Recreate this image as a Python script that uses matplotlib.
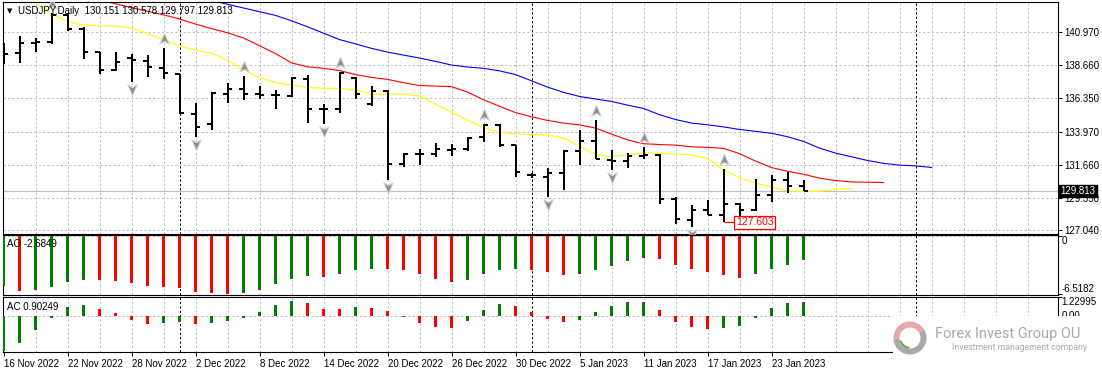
import numpy as np
import matplotlib.pyplot as plt
from matplotlib.path import Path
from matplotlib.patches import Rectangle, Wedge
from matplotlib.transforms import offset_copy, blended_transform_factory

W, H = 1102, 373

symbol = "USDJPY,Daily"

# daily bars, 16 Nov 2022 .. 25 Jan 2023
opens = [140.05, 139.49, 140.25, 140.31, 142.19, 141.18, 139.56, 138.32, 139.14, 138.95,
         138.44, 138.04, 135.22, 134.52, 136.63, 136.96, 136.61, 136.57, 136.51, 137.66,
         135.57, 135.58, 137.73, 135.90, 136.87, 131.70, 132.40, 132.41, 132.72, 132.74,
         133.58, 134.47, 133.02, 130.92, 130.81, 131.09, 132.62, 133.35, 131.99, 131.94,
         132.27, 132.34, 129.22, 127.76, 128.51, 128.12, 128.89, 128.47, 129.52, 130.58,
         130.151]
highs = [140.24, 140.71, 140.55, 142.31, 142.35, 141.37, 139.58, 139.61, 139.45, 139.38,
         139.89, 138.06, 135.97, 136.80, 137.38, 137.90, 137.19, 136.91, 137.80, 137.94,
         135.93, 138.20, 137.80, 137.19, 136.91, 132.45, 132.74, 133.16, 133.11, 133.58,
         134.52, 134.50, 133.04, 131.09, 131.40, 132.69, 134.10, 134.80, 132.69, 132.45,
         132.92, 132.41, 129.41, 128.82, 129.17, 131.33, 128.94, 130.63, 130.93, 131.17,
         130.578]
lows = [138.72, 138.84, 139.61, 140.13, 141.06, 139.12, 138.01, 138.27, 137.45, 137.85,
        137.66, 135.20, 133.63, 134.10, 135.97, 136.21, 136.26, 135.60, 136.40, 134.61,
        134.50, 135.27, 136.26, 135.79, 130.58, 131.47, 131.63, 132.17, 132.27, 132.64,
        133.28, 132.88, 130.77, 130.70, 129.41, 129.87, 131.63, 132.03, 131.28, 131.40,
        132.03, 128.89, 127.48, 127.25, 128.12, 127.603, 127.76, 128.42, 129.05, 129.69,
        129.797]
closes = [139.45, 140.20, 140.31, 142.19, 141.18, 139.61, 138.32, 138.91, 139.02, 138.51,
          138.09, 135.27, 134.33, 136.68, 136.96, 136.63, 136.56, 136.55, 137.73, 135.60,
          135.59, 138.13, 136.63, 136.87, 131.70, 132.38, 132.43, 132.74, 132.76, 133.51,
          134.45, 133.04, 131.17, 130.95, 131.05, 132.62, 133.35, 132.03, 131.94, 132.27,
          132.34, 129.22, 127.83, 128.51, 128.12, 128.89, 128.47, 129.52, 130.58, 130.15,
          129.813]

# alligator lines (already shifted forward), first bar index of each
jaw_start = 13
jaw = [143.21, 142.94, 142.68, 142.42, 142.16, 141.78, 141.36, 140.91, 140.46, 140.16,
       139.84, 139.58, 139.37, 139.16, 138.93, 138.67, 138.53, 138.44, 138.26, 138.00,
       137.56, 137.12, 136.75, 136.46, 136.28, 136.11, 135.85, 135.62, 135.18, 134.84,
       134.59, 134.47, 134.32, 134.14, 134.01, 133.87, 133.63, 133.30, 132.83, 132.48,
       132.22, 131.96, 131.76, 131.63, 131.58, 131.47]
teeth_start = 6
teeth = [143.24, 142.98, 142.71, 142.45, 142.20, 141.91, 141.55, 141.23, 140.94, 140.57,
         140.03, 139.48, 138.82, 138.55, 138.44, 138.28, 138.00, 137.80, 137.66, 137.43,
         137.23, 137.19, 137.15, 136.77, 136.23, 135.77, 135.33, 135.03, 134.78, 134.59,
         134.46, 134.24, 133.81, 133.41, 133.14, 133.08, 133.04, 132.92, 132.88, 132.81,
         132.44, 131.92, 131.46, 131.20, 130.99, 130.72, 130.55, 130.45, 130.43, 130.41]
lips_start = 2
lips = [143.03, 142.29, 141.72, 141.48, 141.41, 141.41, 141.27, 140.88, 140.44, 140.03,
        139.71, 139.51, 139.02, 138.35, 137.78, 137.44, 137.26, 137.10, 137.03, 137.03,
        136.92, 136.63, 136.61, 136.63, 136.50, 135.92, 135.36, 134.80, 134.30, 133.93,
        133.83, 133.79, 133.75, 133.54, 132.97, 132.38, 132.23, 132.34, 132.49, 132.46,
        132.41, 132.35, 132.10, 131.30, 130.75, 130.37, 130.10, 129.82, 129.77, 129.81,
        129.91, 129.99]

fractal_up = [3, 10, 15, 21, 30, 37, 40, 45]
fractal_down = [8, 12, 20, 24, 34, 38, 43]

ao = [-5.59, -6.18, -6.15, -5.74, -5.18, -4.95, -4.99, -5.03, -5.33, -5.62,
      -5.77, -5.89, -6.33, -6.49, -6.5182, -6.41, -6.11, -5.44, -4.88, -4.51,
      -4.66, -4.32, -3.87, -3.65, -3.76, -3.87, -4.32, -4.88, -5.22, -4.99,
      -4.32, -3.87, -3.76, -3.87, -4.10, -4.43, -4.32, -3.87, -3.32, -2.76,
      -2.42, -2.53, -3.20, -3.76, -4.10, -4.43, -4.77, -4.32, -3.76, -3.20,
      -2.6849]
ac = [-2.40, -1.86, -0.96, -0.18, 0.56, 0.69, 0.45, 0.16, -0.31, -0.58,
      -0.51, -0.40, -0.58, -0.49, -0.38, -0.18, 0.22, 0.69, 0.98, 0.83,
      0.45, 0.43, 0.56, 0.49, 0.29, -0.11, -0.51, -0.78, -0.81, -0.38,
      0.38, 0.76, 0.63, 0.22, -0.24, -0.45, -0.31, 0.22, 0.63, 0.89,
      0.91, 0.36, -0.45, -0.78, -0.92, -0.85, -0.72, -0.18, 0.49, 0.83,
      0.90249]

price_ticks = [140.970, 138.660, 136.350, 133.970, 131.660, 129.350, 127.040]
ao_range = (-6.5182, 0.0)
ac_range = (-2.463, 1.22995)

date_bars = [0, 4, 8, 12, 16, 20, 24, 28, 32, 36, 40, 44, 48]
date_labels = ["16 Nov 2022", "22 Nov 2022", "28 Nov 2022", "2 Dec 2022", "8 Dec 2022",
               "14 Dec 2022", "20 Dec 2022", "26 Dec 2022", "30 Dec 2022", "5 Jan 2023",
               "11 Jan 2023", "17 Jan 2023", "23 Jan 2023"]
month_breaks = [11, 33, 57]
low_mark_bar = 45

plt.rcParams["font.family"] = ["Liberation Sans", "DejaVu Sans"]
plt.rcParams["font.size"] = 7

GREEN = "#008000"
RED = "#ff0000"
GRID = "#c0c0c0"

fig = plt.figure(figsize=(W / 100, H / 100), dpi=100)


def px_axes(x0, y0, x1, y1):
    return fig.add_axes([x0 / W, 1 - y1 / H, (x1 - x0) / W, (y1 - y0) / H])


ax = px_axes(2.7, 1.7, 1057.7, 233.5)
ax_ao = px_axes(2.7, 235.3, 1057.7, 294.7)
ax_ac = px_axes(2.7, 297.3, 1057.7, 352.3)
panels = [ax, ax_ao, ax_ac]

x_left = (2.7 - 3.5) / 16
x_right = (1057.7 - 3.5) / 16
dash = (0, (2.2, 2.2))

for a in panels:
    a.set_xlim(x_left, x_right)
    for gx in range(2, int(x_right) + 1, 2):
        a.axvline(gx, color=GRID, lw=0.72, ls=dash, zorder=0.5)
    for mb in month_breaks:
        a.axvline(mb, color="black", lw=0.72, ls=dash, zorder=0.6)
    for s in a.spines.values():
        s.set_linewidth(0.8)
    a.yaxis.tick_right()
    a.tick_params(axis="y", direction="out", length=3, width=0.7, pad=1.5)
    a.tick_params(axis="x", bottom=False, labelbottom=False)

n = len(closes)
x = np.arange(n)

# ===== PRICE =====
ax.set_ylim(126.825, 143.123)
ax.set_yticks(price_ticks, [f"{v:.3f}" for v in price_ticks])
for v in price_ticks:
    ax.axhline(v, color=GRID, lw=0.72, ls=dash, zorder=0.5)
ax.axhline(closes[-1], color=GRID, lw=0.9, zorder=1)

ax.plot(jaw_start + np.arange(len(jaw)), jaw, color="#0000ff", lw=0.8, zorder=2)
ax.plot(teeth_start + np.arange(len(teeth)), teeth, color="#ff0000", lw=0.8, zorder=2)
ax.plot(lips_start + np.arange(len(lips)), lips, color="#ffff00", lw=0.8, zorder=2)

ax.vlines(x, lows, highs, color="black", lw=1.44, capstyle="butt", zorder=3)
ax.hlines(opens, x - 0.31, x, color="black", lw=1.44, capstyle="butt", zorder=3)
ax.hlines(closes, x, x + 0.31, color="black", lw=1.44, capstyle="butt", zorder=3)

up_arrow = Path([(0, 1), (0.75, -0.75), (0, -0.3), (-0.75, -0.75), (0, 1)],
                [Path.MOVETO, Path.LINETO, Path.LINETO, Path.LINETO, Path.CLOSEPOLY])
down_arrow = Path([(0, -1), (0.75, 0.75), (0, 0.3), (-0.75, 0.75), (0, -1)],
                  [Path.MOVETO, Path.LINETO, Path.LINETO, Path.LINETO, Path.CLOSEPOLY])
ax.plot(fractal_up, [highs[i] for i in fractal_up], ls="none", marker=up_arrow, ms=9,
        mfc="#8c8c8c", mec="#d4d4d4", mew=0.8, zorder=4,
        transform=offset_copy(ax.transData, fig=fig, y=9, units="dots"))
ax.plot(fractal_down, [lows[i] for i in fractal_down], ls="none", marker=down_arrow, ms=9,
        mfc="#8c8c8c", mec="#d4d4d4", mew=0.8, zorder=4,
        transform=offset_copy(ax.transData, fig=fig, y=-7, units="dots"))

low_mark = lows[low_mark_bar]
ax.hlines(low_mark, low_mark_bar, low_mark_bar + 0.7, color=RED, lw=0.9, zorder=5)
ax.text(low_mark_bar + 0.78, low_mark, f"{low_mark:.3f}", color=RED, va="center", ha="left",
        fontsize=7.5, zorder=6,
        bbox=dict(boxstyle="square,pad=0.15", fc="white", ec=RED, lw=0.9))

right = blended_transform_factory(ax.transAxes, ax.transData)
ax.text(1 + 2.5 / 1055, closes[-1], f"{closes[-1]:.3f}", transform=right, color="white",
        ha="left", va="center", clip_on=False, zorder=10,
        bbox=dict(boxstyle="square,pad=0.15", fc="black", ec="black"))

# ===== AO =====
ao_colors = [GREEN] + [GREEN if ao[i] > ao[i - 1] else RED for i in range(1, n)]
ax_ao.bar(x, ao, width=0.16, color=ao_colors, zorder=3)
ax_ao.set_ylim(ao_range[0] - 0.11, 0.124)
ax_ao.axhline(0, color=GRID, lw=0.72, ls=dash, zorder=0.5)
ax_ao.set_yticks(list(ao_range), ["", ""])
tr = blended_transform_factory(ax_ao.transAxes, ax_ao.transData)
ax_ao.text(1 + 4 / 1055, ao_range[1], "0", transform=tr, va="top", ha="left", clip_on=False)
ax_ao.text(1 + 4 / 1055, ao_range[0], f"{ao_range[0]:.4f}", transform=tr, va="bottom",
           ha="left", clip_on=False)

# ===== AC =====
ac_colors = [GREEN] + [GREEN if ac[i] > ac[i - 1] else RED for i in range(1, n)]
ax_ac.bar(x, ac, width=0.16, color=ac_colors, zorder=3)
ax_ac.set_ylim(*ac_range)
ax_ac.axhline(0, color=GRID, lw=0.72, ls=dash, zorder=0.5)
ax_ac.set_yticks([ac_range[1], 0.0], ["", ""])
tr = blended_transform_factory(ax_ac.transAxes, ax_ac.transData)
ax_ac.text(1 + 4 / 1055, ac_range[1], f"{ac_range[1]:.5f}", transform=tr, va="top",
           ha="left", clip_on=False)
ax_ac.text(1 + 4 / 1055, 0.0, "0.00", transform=tr, va="center", ha="left", clip_on=False)

ax_ac.tick_params(axis="x", bottom=True, labelbottom=True, length=3, width=0.7, pad=1.5)
ax_ac.set_xticks(date_bars, date_labels, ha="left")

# ===== labels =====
fig.text(7.3 / W, 1 - 11 / H, "\u25bc", fontsize=5, family="DejaVu Sans", va="center")
fig.text(18.3 / W, 1 - 11 / H,
         f"{symbol}  {opens[-1]:.3f} {highs[-1]:.3f} {lows[-1]:.3f} {closes[-1]:.3f}",
         va="center")
fig.text(7.3 / W, 1 - 244 / H, f"AO {ao[-1]:.4f}", va="center")
fig.text(7.3 / W, 1 - 306.7 / H, f"AC {ac[-1]:.5f}", va="center")

# ===== logo =====
ax_logo = fig.add_axes([0, 0, 1, 1], zorder=5)
ax_logo.set_xlim(0, W)
ax_logo.set_ylim(H, 0)
ax_logo.axis("off")
ax_logo.patch.set_alpha(0)
ax_logo.add_patch(Rectangle((893, 315.6), W - 893, H - 315.6, fc="white", ec="none"))
ax_logo.add_patch(Wedge((910, 338), 16.5, 175, 330, width=6, fc="#e6a8a8", ec="none"))
ax_logo.add_patch(Wedge((910, 338), 16.5, -30, 175, width=6, fc="#a9a9a9", ec="none"))
ax_logo.add_patch(Wedge((910, 338), 10.5, 95, 165, width=1.6, fc="#5aa020", ec="none"))
ax_logo.text(935, 334, "Forex Invest Group OU", fontsize=10.5, family="Roboto",
             color="#a8a8a8", va="center", ha="left")
ax_logo.text(952, 347.5, "Investment management company", fontsize=6.3, family="Roboto",
             color="#ababab", va="center", ha="left")

fig.savefig("out.png", dpi=100)
